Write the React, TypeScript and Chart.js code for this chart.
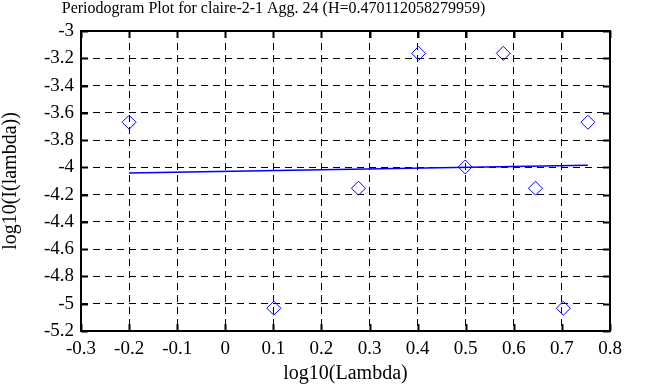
import React, { useEffect, useRef } from "react";
import { Chart, registerables } from "chart.js";

Chart.register(...registerables);

const TITLE = "Periodogram Plot for claire-2-1 Agg. 24 (H=0.470112058279959)";
const X_TITLE = "log10(Lambda)";
const Y_TITLE = "log10(I(lambda))";

// log10(Lambda) for each periodogram point
const logLambda = [-0.2, 0.101, 0.277, 0.402, 0.499, 0.578, 0.645, 0.703, 0.754];
// log10(I(lambda)) values
const logI = [-3.669, -5.033, -4.153, -3.164, -3.997, -3.164, -4.153, -5.033, -3.669];
// least squares fit line endpoints
const fitX = [-0.2, 0.754];
const fitY = [-4.041, -3.984];

const X_MIN = -0.3;
const X_MAX = 0.8;
const Y_MIN = -5.2;
const Y_MAX = -3;

const FONT = "'Liberation Serif', 'Times New Roman', serif";
const LABEL_SIZE = 19;
const AXIS_TITLE_SIZE = 20;

const framePlugin = {
  id: "framePlugin",
  afterDraw(chart: any) {
    const { ctx, chartArea } = chart;
    const { left, right, top, bottom } = chartArea;
    const xs = chart.scales.x;
    const ys = chart.scales.y;
    ctx.save();
    ctx.setLineDash([]);
    ctx.strokeStyle = "#000";
    ctx.lineWidth = 2;
    ctx.strokeRect(left, top, right - left, bottom - top);
    const tl = 7;
    ctx.beginPath();
    xs.ticks.forEach((t: any) => {
      const px = Math.round(xs.getPixelForValue(t.value)) + 0.5;
      ctx.moveTo(px, top);
      ctx.lineTo(px, top + tl);
      ctx.moveTo(px, bottom);
      ctx.lineTo(px, bottom - tl);
    });
    ys.ticks.forEach((t: any) => {
      const py = Math.round(ys.getPixelForValue(t.value)) + 0.5;
      ctx.moveTo(left, py);
      ctx.lineTo(left + tl, py);
      ctx.moveTo(right, py);
      ctx.lineTo(right - tl, py);
    });
    ctx.stroke();
    // chart title
    ctx.fillStyle = "#000";
    ctx.font = `16px ${FONT}`;
    ctx.textAlign = "center";
    ctx.textBaseline = "alphabetic";
    ctx.fillText(TITLE, 273.5, 12.5);
    ctx.restore();
  },
};

export default function App() {
  const ref = useRef<HTMLCanvasElement | null>(null);

  useEffect(() => {
    if (!ref.current) return;
    const points = logLambda.map((x, i) => ({ x, y: logI[i] }));
    const fit = fitX.map((x, i) => ({ x, y: fitY[i] }));
    const chart = new Chart(ref.current, {
      type: "scatter",
      data: {
        datasets: [
          {
            type: "line",
            label: "fit",
            data: fit,
            borderColor: "#0000ff",
            borderWidth: 1.5,
            pointRadius: 0,
            fill: false,
            tension: 0,
          } as any,
          {
            label: "periodogram",
            data: points,
            pointStyle: "rectRot",
            pointRadius: 7,
            pointHoverRadius: 7,
            borderColor: "#0000ff",
            backgroundColor: "rgba(0,0,0,0)",
            borderWidth: 1,
          },
        ],
      },
      options: {
        animation: false,
        responsive: false,
        devicePixelRatio: 1,
        events: [],
        layout: { padding: { top: 31, right: 48, left: 0, bottom: 0 } },
        plugins: {
          legend: { display: false },
          title: { display: false },
          tooltip: { enabled: false },
        },
        scales: {
          x: {
            type: "linear",
            min: X_MIN,
            max: X_MAX,
            afterFit(scale: any) {
              scale.height = 56;
            },
            ticks: {
              stepSize: 0.1,
              color: "#000",
              padding: 7,
              font: { family: FONT, size: LABEL_SIZE },
              maxRotation: 0,
              callback: (v: any) => String(Math.round(Number(v) * 10) / 10),
            },
            grid: { color: "#000", lineWidth: 1, drawTicks: false },
            border: { display: false, dash: [7, 5] },
            title: {
              display: true,
              text: X_TITLE,
              color: "#000",
              font: { family: FONT, size: AXIS_TITLE_SIZE, lineHeight: 1 },
              padding: { top: 0, bottom: 3 },
            },
          },
          y: {
            type: "linear",
            min: Y_MIN,
            max: Y_MAX,
            afterFit(scale: any) {
              scale.width = 81;
            },
            ticks: {
              stepSize: 0.2,
              color: "#000",
              padding: 7,
              font: { family: FONT, size: LABEL_SIZE },
              callback: (v: any) => String(Math.round(Number(v) * 10) / 10),
            },
            grid: { color: "#000", lineWidth: 1, drawTicks: false },
            border: { display: false, dash: [7, 5] },
            title: {
              display: true,
              text: Y_TITLE,
              color: "#000",
              font: { family: FONT, size: AXIS_TITLE_SIZE, lineHeight: 1 },
              padding: { top: 1, bottom: 0 },
            },
          },
        },
      },
      plugins: [framePlugin],
    });
    return () => chart.destroy();
  }, []);

  return (
    <div style={{ position: "absolute", left: 0, top: 0, width: 658, height: 387, background: "#fff" }}>
      <canvas ref={ref} width={658} height={387} style={{ display: "block" }} />
    </div>
  );
}
